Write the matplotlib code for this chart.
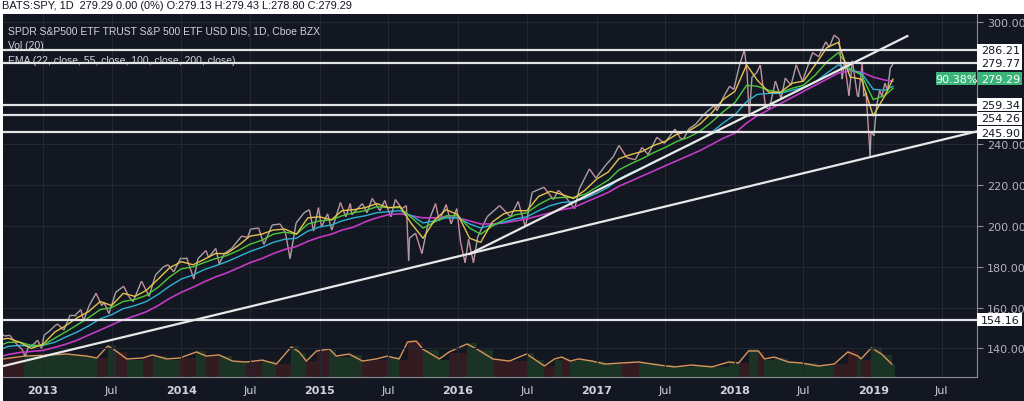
import numpy as np
import pandas as pd
import matplotlib.pyplot as plt
import matplotlib.dates as mdates
from matplotlib.collections import LineCollection
from matplotlib.patches import Rectangle
from matplotlib.transforms import blended_transform_factory

# ---- price (daily chart) ----
price_dates = [
    "2012-09-14", "2012-09-21", "2012-10-05", "2012-10-19", "2012-10-26", "2012-11-07",
    "2012-11-15", "2012-11-23", "2012-12-07", "2012-12-18", "2012-12-28", "2013-01-04",
    "2013-01-18", "2013-02-01", "2013-02-08", "2013-02-25", "2013-03-14", "2013-03-28",
    "2013-04-11", "2013-04-18", "2013-05-03", "2013-05-21", "2013-06-05", "2013-06-11",
    "2013-06-24", "2013-07-12", "2013-08-02", "2013-08-15", "2013-08-27", "2013-09-18",
    "2013-10-08", "2013-10-25", "2013-11-15", "2013-11-27", "2013-12-12", "2013-12-31",
    "2014-01-15", "2014-02-03", "2014-02-14", "2014-03-07", "2014-03-14", "2014-04-02",
    "2014-04-11", "2014-04-25", "2014-05-14", "2014-06-09", "2014-06-25", "2014-07-03",
    "2014-07-24", "2014-08-07", "2014-08-29", "2014-09-19", "2014-10-03", "2014-10-15",
    "2014-10-31", "2014-11-21", "2014-12-05", "2014-12-16", "2014-12-29", "2015-01-06",
    "2015-01-22", "2015-02-02", "2015-02-25", "2015-03-11", "2015-03-23", "2015-03-27",
    "2015-04-24", "2015-05-06", "2015-05-20", "2015-06-09", "2015-06-22", "2015-07-08",
    "2015-07-20", "2015-08-06", "2015-08-18", "2015-08-24", "2015-08-26", "2015-09-11",
    "2015-09-28", "2015-10-15", "2015-11-03", "2015-11-13", "2015-12-01", "2015-12-14",
    "2015-12-29", "2016-01-08", "2016-01-20", "2016-01-29", "2016-02-11", "2016-02-22",
    "2016-03-18", "2016-04-20", "2016-05-19", "2016-06-08", "2016-06-27", "2016-07-15",
    "2016-08-15", "2016-09-09", "2016-09-22", "2016-10-14", "2016-11-04", "2016-11-16",
    "2016-12-13", "2016-12-30", "2017-01-26", "2017-02-14", "2017-03-01", "2017-03-22",
    "2017-04-13", "2017-05-01", "2017-05-17", "2017-06-09", "2017-06-29", "2017-07-27",
    "2017-08-10", "2017-08-18", "2017-09-01", "2017-09-20", "2017-10-13", "2017-11-07",
    "2017-11-15", "2017-12-04", "2017-12-18", "2017-12-29", "2018-01-12", "2018-01-26",
    "2018-02-02", "2018-02-08", "2018-02-15", "2018-02-27", "2018-03-09", "2018-03-23",
    "2018-04-02", "2018-04-18", "2018-05-03", "2018-05-14", "2018-05-29", "2018-06-12",
    "2018-06-28", "2018-07-25", "2018-08-10", "2018-08-29", "2018-09-07", "2018-09-20",
    "2018-10-03", "2018-10-11", "2018-10-17", "2018-10-29", "2018-11-07", "2018-11-20",
    "2018-11-23", "2018-12-03", "2018-12-07", "2018-12-13", "2018-12-24", "2018-12-26",
    "2019-01-03", "2019-01-10", "2019-01-18", "2019-01-24", "2019-02-01", "2019-02-08",
    "2019-02-15", "2019-02-22",
]
price = [
    147.5, 146, 146.5, 143, 141.5, 139.5,
    136, 140.5, 142, 144, 140, 146.5,
    148.5, 151, 152, 149, 156.5, 156.5,
    159, 153.5, 161, 167, 161, 162.5,
    157, 167.5, 170.5, 165.5, 163, 173,
    165.5, 176, 180, 181, 177.5, 184.5,
    184.5, 174, 184, 188, 184.5, 189,
    181.5, 186.5, 189, 195, 194.5, 198.5,
    199, 191, 200.5, 201, 196.5, 184,
    201.5, 206.5, 208, 197.5, 209, 199.5,
    206, 198, 211.5, 204.5, 211, 205.5,
    211, 206.5, 213.5, 207.5, 212.5, 204.5,
    213, 208.5, 210, 183, 194, 196.5,
    186.5, 202, 211, 202.5, 210.5, 201,
    208.5, 192, 182, 193.5, 182, 194.5,
    204.5, 210, 204.5, 212, 199.5, 216.5,
    219, 213, 217.5, 213.5, 208.5, 218,
    228, 223.5, 230, 234, 239.5, 233.5,
    232.5, 238.5, 235, 243.5, 240.5, 247.5,
    243, 242.5, 247.5, 250, 255, 259,
    256.5, 264, 268.5, 266.9, 278, 286.5,
    275.5, 253.5, 273, 275, 278.9, 258,
    257.5, 271, 262.5, 272.5, 269, 279,
    270.9, 285, 283, 290.3, 287.6, 293.6,
    291.6, 272, 280.5, 263.9, 281, 264.1,
    263.25, 279.3, 263.6, 265.4, 234.3, 246.2,
    244.2, 258.9, 266.5, 263.5, 270, 266.4,
    277.4, 279.29,
]

# ---- EMA (22, 55, 100, 200), read month by month ----
ema_dates = ["2012-09-17"] + [d.strftime("%Y-%m-%d") for d in
                              pd.date_range("2012-10-01", "2019-02-01", freq="MS")] + ["2019-02-22"]
ema22 = [144.5, 145, 143, 140,
         142, 148, 151, 155, 158, 163, 161, 167, 165.5, 168.5, 174, 179.5,
         182.5, 181, 183.5, 186.5, 186.5, 190.5, 195, 196, 198, 198.5, 196, 204,
         204.5, 203, 207.5, 208, 209, 211, 209, 209.5, 201, 194, 203, 208,
         205.5, 194, 192, 202, 206, 207.5, 207.5, 214.5, 217, 215.5, 213.5, 217.5,
         223, 226.5, 233, 235, 236.5, 239.5, 241.5, 245, 246.5, 250, 255.5, 262,
         266, 279, 271.5, 265.5, 265.5, 270, 271, 279, 287.5, 290, 273, 272,
         254, 264, 272]
ema55 = [142, 143, 143, 141.5,
         141.5, 145, 148, 151.5, 155, 159, 160, 163, 164, 166, 170, 175,
         179, 180, 182, 184, 185.5, 188, 191, 193, 196, 197, 196, 201,
         202.5, 203, 205, 206.5, 207.5, 209.5, 209, 209, 204, 199, 202, 205,
         205, 199, 196, 200, 203, 205.5, 206.5, 210.5, 213.5, 214, 214, 215.5,
         219, 222.5, 227.5, 230.5, 233, 236, 238.5, 241.5, 243.5, 246.5, 251, 256,
         260.5, 269, 268.5, 266.5, 265.5, 267.5, 269, 274, 280.5, 285, 277, 274,
         262, 264, 267.5]
ema100 = [140, 141, 141.5, 141,
          141.5, 143, 145.5, 148, 151, 154.5, 156.5, 159.5, 161, 163, 166.5, 170.5,
          174, 176, 178.5, 180.5, 182.5, 185, 187.5, 189.5, 192, 193.5, 194, 197.5,
          199.5, 200.5, 202.5, 204, 205, 206.5, 207, 207.5, 205, 201.5, 202.5, 204,
          204, 201, 199, 200.5, 202, 203.5, 204.5, 207.5, 210, 211.5, 212, 213.5,
          216, 219, 223, 226, 228.5, 231.5, 234, 237, 239.5, 242.5, 246, 250.5,
          254.5, 261, 264.5, 265, 265, 266.5, 268, 270.5, 275, 279, 276.5, 275,
          267, 266.5, 268.5]
ema200 = [136.3, 137, 138, 138.5,
          139, 140.5, 142, 144, 146.5, 149, 151.5, 154, 156, 158, 161, 164.5,
          167.5, 170, 172.5, 175, 177, 179.5, 182, 184, 186.5, 188.5, 190, 192.5,
          194.5, 196, 198, 199.5, 202, 204, 205.5, 206, 205, 204, 204, 204.5,
          204, 202.5, 201, 201, 201.5, 202.5, 203.5, 205, 206.5, 208, 209, 211.5,
          214, 216.5, 219.5, 222, 224.5, 227, 229.5, 232, 234.5, 237, 240, 243,
          245.5, 250.5, 254, 257, 260, 263, 266, 269, 272, 275, 276, 275.5,
          273, 271.5, 271]

# ---- volume (millions) and its 20-day average ----
vol_dates = [
    "2012-09-17", "2012-11-13", "2013-01-19", "2013-03-05", "2013-04-27", "2013-05-23",
    "2013-06-21", "2013-07-13", "2013-08-10", "2013-09-21", "2013-10-17", "2013-11-23",
    "2013-12-28", "2014-02-10", "2014-03-08", "2014-04-11", "2014-05-16", "2014-06-21",
    "2014-08-03", "2014-09-09", "2014-10-18", "2014-11-08", "2014-11-27", "2014-12-24",
    "2015-01-27", "2015-02-14", "2015-03-20", "2015-04-24", "2015-05-31", "2015-06-28",
    "2015-07-30", "2015-08-21", "2015-09-13", "2015-09-30", "2015-11-13", "2015-12-09",
    "2016-01-25", "2016-02-20", "2016-04-02", "2016-05-16", "2016-06-30", "2016-07-20",
    "2016-08-16", "2016-09-12", "2016-10-01", "2016-10-23", "2016-11-15", "2016-12-20",
    "2017-01-23", "2017-03-08", "2017-04-22", "2017-06-14", "2017-07-26", "2017-09-09",
    "2017-11-01", "2017-12-16", "2018-01-11", "2018-02-06", "2018-03-04", "2018-03-20",
    "2018-04-15", "2018-05-22", "2018-06-25", "2018-08-09", "2018-09-20", "2018-10-26",
    "2018-11-22", "2018-11-30", "2018-12-27", "2019-01-23", "2019-02-19",
]
vol_ma = [95, 110, 116, 121, 110, 100, 163, 137, 95, 100, 116, 95,
          100, 132, 110, 116, 84, 79, 89, 68, 158, 132, 84, 137,
          147, 110, 121, 84, 95, 110, 95, 184, 189, 147, 95, 132,
          174, 147, 95, 84, 121, 95, 58, 95, 105, 84, 95, 84,
          68, 74, 79, 63, 53, 63, 53, 79, 74, 137, 137, 95,
          105, 79, 74, 58, 68, 132, 110, 95, 153, 121, 68]
vol_bar = [98, 112, 114, 118, 106, 100, 170, 132, 92, 98, 112, 92,
           98, 135, 106, 112, 82, 78, 86, 66, 165, 128, 82, 140,
           142, 106, 118, 82, 92, 106, 92, 195, 185, 140, 92, 128,
           180, 140, 92, 82, 128, 92, 56, 92, 100, 82, 92, 82,
           66, 72, 76, 62, 52, 62, 52, 78, 72, 145, 132, 92,
           102, 78, 72, 56, 66, 138, 106, 92, 158, 118, 66]

# ---- drawn levels, their axis labels and trend lines ----
levels = [286.21, 279.77, 259.34, 254.26, 245.90, 154.16]
level_label_at = [286.21, 279.77, 259.34, 252.8, 245.6, 154.16]   # labels nudged apart
upper_trend_dates = ["2016-02-01", "2019-04-01"]
upper_trend = [186.3, 293.1]
lower_trend_dates = ["2012-09-17", "2019-09-30"]
lower_trend = [131.3, 246.3]
last_price = 279.29
last_label_at = 272.1
last_pct = "90.38%"

BG = "#131722"
GRID = "#242833"
TXT = "#d1d4dc"
SANS = ["Liberation Sans", "DejaVu Sans"]

fig = plt.figure(figsize=(10.24, 4.02), dpi=100)
fig.patch.set_facecolor("white")
fig.patches.append(Rectangle((3 / 1024, 0), 1, 387 / 402, transform=fig.transFigure,
                             facecolor=BG, edgecolor="none", zorder=-5))

rect = [3 / 1024, 24 / 402, 974 / 1024, 363 / 402]
ax = fig.add_axes(rect)
ax.set_facecolor("none")

x0 = mdates.date2num(pd.Timestamp("2013-01-01"))
ax.set_xlim(x0 - 40 / 138.4 * 365.25, x0 + 934 / 138.4 * 365.25)
ax.set_ylim(125.98, 303.92)

# volume pane underneath
axv = ax.twinx()
axv.set_ylim(0, 363 / 0.19)
axv.set_yticks([])
for s in axv.spines.values():
    s.set_visible(False)
axv.set_zorder(1)
ax.set_zorder(2)

vd = mdates.date2num(pd.to_datetime(vol_dates))
pd_num = mdates.date2num(pd.to_datetime(price_dates))
widths = np.append(np.diff(vd), 8)
p_at = np.interp(np.append(vd, vd[-1] + 8), pd_num, price)
up = np.diff(p_at) >= 0
axv.bar(vd, vol_bar, width=widths, align="edge",
        color=np.where(up, "#1a3324", "#331b22"), edgecolor="none", zorder=1)
axv.plot(vd, vol_ma, color="#d8955a", lw=1.0, zorder=2)

# grid
for yr in range(2013, 2020):
    for m in (1, 7):
        ax.axvline(mdates.date2num(pd.Timestamp(f"{yr}-{m:02d}-01")), color=GRID, lw=0.8, zorder=0)
for v in range(140, 301, 20):
    ax.axhline(v, color=GRID, lw=0.8, zorder=0)

# EMAs
ed = mdates.date2num(pd.to_datetime(ema_dates))
ax.plot(ed, ema200, color="#c23bc4", lw=1.2, zorder=3)
ax.plot(ed, ema100, color="#2eb2d6", lw=1.0, zorder=3)
ax.plot(ed, ema55, color="#4cc93a", lw=1.0, zorder=3)
ax.plot(ed, ema22, color="#e3c34a", lw=1.0, zorder=3)

# price
pts = np.column_stack([pd_num, price])
segs = np.stack([pts[:-1], pts[1:]], axis=1)
seg_col = np.where(np.diff(price) >= 0, "#a8a4a6", "#cf8b9c")
ax.add_collection(LineCollection(segs, colors=seg_col, linewidths=1.0, zorder=2.5))

# horizontal levels and trend lines
for lv in levels:
    ax.axhline(lv, color="#e4e4e4", lw=1.6, zorder=6)
ax.plot(mdates.date2num(pd.to_datetime(upper_trend_dates)), upper_trend, color="#e8e8e8", lw=1.6, zorder=6)
ax.plot(mdates.date2num(pd.to_datetime(lower_trend_dates)), lower_trend, color="#e8e8e8", lw=1.6, zorder=6)

# axes styling
for s in ("top", "left"):
    ax.spines[s].set_visible(False)
ax.spines["bottom"].set_color("#8a8d96")
ax.spines["right"].set_color("#8a8d96")
ax.yaxis.tick_right()
yt = list(range(140, 301, 20))
ax.set_yticks(yt)
# 260 and 280 sit under the level labels
ax.set_yticklabels(["" if v in (260, 280) else f"{v:.2f}" for v in yt])
ax.tick_params(axis="y", colors="#8a8d96", labelcolor="#b2b5be", labelsize=8, length=4, pad=3)

xt, xl = [], []
for yr in range(2013, 2020):
    xt += [mdates.date2num(pd.Timestamp(f"{yr}-01-01")), mdates.date2num(pd.Timestamp(f"{yr}-07-01"))]
    xl += [str(yr), "Jul"]
ax.set_xticks(xt)
ax.set_xticklabels(xl)
ax.tick_params(axis="x", length=0, labelcolor=TXT, labelsize=8, pad=6)
for lab in ax.get_xticklabels():
    if lab.get_text() != "Jul":
        lab.set_fontweight("bold")

# price labels on the axis
tr = blended_transform_factory(ax.transAxes, ax.transData)
bw = 45 / 974
bh = 13 / 2.04
for lv, at in zip(levels, level_label_at):
    ax.add_patch(Rectangle((1.0, at - bh / 2), bw, bh, transform=tr, facecolor="white",
                           edgecolor="none", clip_on=False, zorder=10))
    ax.text(1.0 + bw / 2 + 0.001, at, f"{lv:.2f}", transform=tr, ha="center", va="center",
            fontsize=8, color="#131722", zorder=11, clip_on=False)
green = "#3bb47a"
ax.add_patch(Rectangle((1.0, last_label_at - bh / 2), bw, bh, transform=tr, facecolor=green,
                       edgecolor="none", clip_on=False, zorder=10))
ax.text(1.0 + bw / 2 + 0.001, last_label_at, f"{last_price:.2f}", transform=tr, ha="center",
        va="center", fontsize=8, color="white", zorder=11, clip_on=False)
pw = 40 / 974
ax.add_patch(Rectangle((1.0 - pw - 1 / 974, last_label_at - bh / 2), pw, bh, transform=tr,
                       facecolor=green, edgecolor="none", zorder=10))
ax.text(1.0 - pw / 2 - 1 / 974, last_label_at, last_pct, transform=tr, ha="center", va="center",
        fontsize=8, color="white", zorder=11)

# legend text
ax.text(5 / 974, 1 - 17 / 363, "SPDR S&P500 ETF TRUST S&P 500 ETF USD DIS, 1D, Cboe BZX",
        transform=ax.transAxes, fontsize=7.5, family=SANS, color=TXT, va="center", zorder=4)
ax.text(5 / 974, 1 - 31 / 363, "Vol (20)", transform=ax.transAxes, fontsize=7.5, family=SANS,
        color=TXT, va="center", zorder=4)
ax.text(5 / 974, 1 - 46 / 363, "EMA (22, close, 55, close, 100, close, 200, close)",
        transform=ax.transAxes, fontsize=7.5, family=SANS, color=TXT, va="center", zorder=4)

fig.text(2 / 1024, 1 - 9 / 402,
         "BATS:SPY, 1D  279.29 0.00 (0%) O:279.13 H:279.43 L:278.80 C:279.29",
         fontsize=7.9, family=SANS, color="#131722", va="baseline", ha="left", zorder=-4)

fig.savefig("out.png", dpi=100, facecolor=fig.get_facecolor())
